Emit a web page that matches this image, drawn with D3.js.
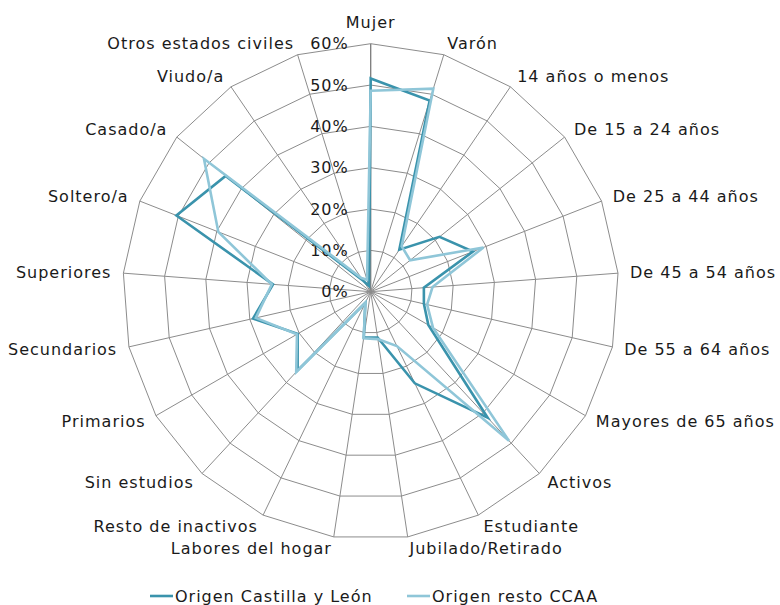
<!DOCTYPE html>
<html><head><meta charset="utf-8">
<script src="https://cdnjs.cloudflare.com/ajax/libs/d3/7.8.5/d3.min.js"></script>
<style>
html,body{margin:0;padding:0;background:#fff;}
svg text{font-family:"DejaVu Sans",Verdana,sans-serif;fill:#1a1a1a;letter-spacing:1px;}
</style></head>
<body><svg id="chart" width="780" height="605"></svg>
<script>
const categories = ["Mujer","Varón","14 años o menos","De 15 a 24 años","De 25 a 44 años","De 45 a 54 años","De 55 a 64 años","Mayores de 65 años","Activos","Estudiante","Jubilado/Retirado","Labores del hogar","Resto de inactivos","Sin estudios","Primarios","Secundarios","Superiores","Soltero/a","Casado/a","Viudo/a","Otros estados civiles"];
const castilla = [51.6,48.4,12.3,21.3,26.6,12.9,13.2,16.1,41.6,24.6,11.2,11.2,3.0,26.0,20.4,29.2,23.7,50.5,44.9,3.2,1.5];
const resto = [48.6,51.4,13.3,12.2,29.3,15.0,14.0,17.4,49.2,14.6,11.6,11.4,3.0,26.5,20.6,28.5,24.0,39.6,51.6,4.0,3.0];
const tickValues = [0,10,20,30,40,50,60];
const seriesNames = ["Origen Castilla y León","Origen resto CCAA"];
const colors = ["#3a93ac","#8fc6d8"];

const svg = d3.select("#chart");
const cx = 370.7, cy = 291.7, R = 248;
const r = d3.scaleLinear().domain([0,60]).range([0,R]);
const ang = d3.scaleLinear().domain([0,categories.length]).range([0,2*Math.PI]);
const pt = (i,v) => [cx + r(v)*Math.sin(ang(i)), cy - r(v)*Math.cos(ang(i))];
const g = svg.append("g");
const FS = 16;

// rings
tickValues.filter(t=>t>0).forEach(t=>{
  g.append("path")
    .attr("d", d3.line()(categories.map((c,i)=>pt(i,t))) + "Z")
    .attr("fill","none").attr("stroke","#8c8c8c").attr("stroke-width",1);
});
// spokes
categories.forEach((c,i)=>{
  const p = pt(i,60);
  g.append("line").attr("x1",cx).attr("y1",cy).attr("x2",p[0]).attr("y2",p[1])
    .attr("stroke", i===0 ? "#7a7a7a" : "#8c8c8c").attr("stroke-width", i===0?1.3:1);
});
// tick labels
tickValues.forEach(t=>{
  g.append("text").attr("x",cx-22).attr("y",cy-r(t)).attr("dy","0.35em")
    .attr("text-anchor","end").attr("font-size",FS).text(t+"%");
});
// category labels
categories.forEach((c,i)=>{
  const a = ang(i), s = Math.sin(a), co = Math.cos(a);
  let anchor = Math.abs(s) < 0.05 ? "middle" : (s>0 ? "start":"end");
  let rr = 260;
  if (anchor==="middle") rr = 269;
  const x = cx + rr*s, y = cy - rr*co;
  g.append("text").attr("x",x).attr("y",y).attr("dy","0.35em")
    .attr("text-anchor",anchor).attr("font-size",FS).text(c);
});
// series
[castilla,resto].forEach((data,k)=>{
  g.append("path")
    .attr("d", d3.line()(data.map((v,i)=>pt(i,v))) + "Z")
    .attr("fill","none").attr("stroke",colors[k]).attr("stroke-width",2.6)
    .attr("stroke-linejoin","miter");
});
// legend
const legX = [150,407];
seriesNames.forEach((n,k)=>{
  const lg = svg.append("g").attr("transform",`translate(${legX[k]},596)`);
  lg.append("line").attr("x1",0).attr("x2",23).attr("y1",0).attr("y2",0)
    .attr("stroke",colors[k]).attr("stroke-width",2.6);
  lg.append("text").attr("x",25).attr("y",0).attr("dy","0.35em").attr("font-size",FS).text(n);
});
</script></body></html>
